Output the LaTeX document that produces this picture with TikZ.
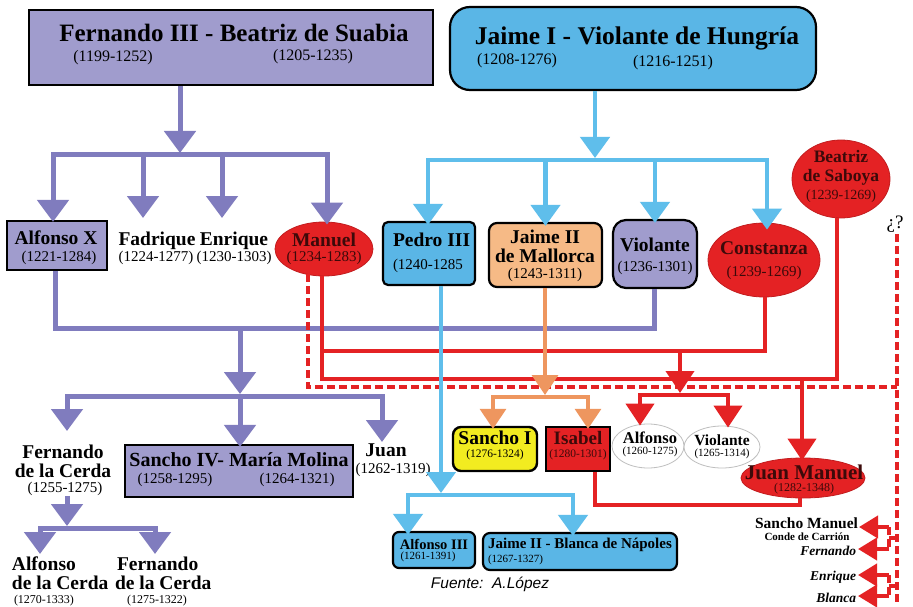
\documentclass[tikz,border=0pt]{standalone}
\usepackage{fontspec}
\setmainfont{Liberation Serif}
\setsansfont{Liberation Sans}
\usetikzlibrary{arrows.meta,shapes.geometric}
\definecolor{pfill}{RGB}{160,156,205}
\definecolor{plinec}{RGB}{128,124,190}
\definecolor{bfill}{RGB}{90,182,230}
\definecolor{blinec}{RGB}{95,190,235}
\definecolor{ofill}{RGB}{246,186,134}
\definecolor{olinec}{RGB}{238,150,95}
\definecolor{rfill}{RGB}{228,34,36}
\definecolor{yfill}{RGB}{242,236,32}
\definecolor{dred}{RGB}{60,10,10}
\newcommand\myfs[1]{\fontsize{#1}{#1}\selectfont}
\newcommand\myfsl[2]{\fontsize{#1}{#2}\selectfont}
\tikzset{
  txt/.style={inner sep=0pt, outer sep=0pt},
  nm/.style={txt, font={\bfseries\myfs{19.5}}},
  nml/.style={txt, align=center, font={\bfseries\myfsl{19.5}{20}}},
  dt/.style={txt, font={\myfs{15}}},
  sdt/.style={txt, font={\myfs{11.5}}},
  pbox/.style={draw=black, line width=2.2pt, fill=pfill, rectangle, inner sep=0pt},
  bbox/.style={draw=black, line width=2.2pt, fill=bfill, rectangle, rounded corners=#1, inner sep=0pt},
  obox/.style={draw=black, line width=2.2pt, fill=ofill, rectangle, rounded corners=8pt, inner sep=0pt},
  vbox/.style={draw=black, line width=2.2pt, fill=pfill, rectangle, rounded corners=13pt, inner sep=0pt},
  ybox/.style={draw=black, line width=2.4pt, fill=yfill, rectangle, rounded corners=8pt, inner sep=0pt},
  rbox/.style={draw=black, line width=2.4pt, fill=rfill, rectangle, inner sep=0pt},
  rell/.style={ellipse, draw=rfill!85!black, line width=0.8pt, fill=rfill, inner sep=0pt},
  well/.style={ellipse, draw=black!25, line width=0.8pt, fill=white, inner sep=0pt},
  pln/.style={draw=plinec, line width=5pt},
  parr/.style={pln, -{Triangle[width=31pt,length=22pt]}},
  bln/.style={draw=blinec, line width=4.5pt},
  barr/.style={bln, -{Triangle[width=29pt,length=21pt]}},
  oln/.style={draw=olinec, line width=3.5pt},
  oarr/.style={oln, -{Triangle[width=26pt,length=20pt]}},
  rln/.style={draw=rfill, line width=4pt},
  rarr/.style={rln, -{Triangle[width=28pt,length=22pt]}},
  rarrl/.style={rln, -{Triangle[width=22pt,length=19pt]}},
  rdsh/.style={draw=rfill, line width=4pt, dash pattern=on 8pt off 4pt},
}
\begin{document}
\begin{tikzpicture}[x=1pt,y=-1pt]
\useasboundingbox[fill=white] (0,0) rectangle (913,607);

% ---------- top couples
\node[pbox, minimum width=404pt, minimum height=75pt] (fb) at (231,47.5) {};
\node[txt, font={\bfseries\myfs{25}}] (fbT) at (234,33) {Fernando III - Beatriz de Suabia};
\node[dt, font={\myfs{16}}] (fbD1) at (113,58) {(1199-1252)};
\node[dt, font={\myfs{16}}] (fbD2) at (313,57) {(1205-1235)};

\node[bbox=20pt, minimum width=366pt, minimum height=83pt] (jv) at (633,48.5) {};
\node[txt, font={\bfseries\myfs{25.5}}] (jvT) at (637,38) {Jaime I - Violante de Hungría};
\node[dt, font={\myfs{16}}] (jvD1) at (517,61) {(1208-1276)};
\node[dt, font={\myfs{16}}] (jvD2) at (673,63) {(1216-1251)};

% ---------- second row
\node[pbox, minimum width=100pt, minimum height=49pt] (alf) at (57,245.5) {};
\node[nm] (alfT) at (56,238) {Alfonso X};
\node[dt] (alfD) at (59,258) {(1221-1284)};

\node[nm] (fadT) at (157,241) {Fadrique};
\node[dt] (fadD) at (156,258) {(1224-1277)};
\node[nm] (enrT) at (234,241) {Enrique};
\node[dt] (enrD) at (234,258) {(1230-1303)};

\node[rell, minimum width=98pt, minimum height=54pt] (man) at (324,249) {};
\node[nm, text=dred] (manT) at (324,240) {Manuel};
\node[dt, text=dred] (manD) at (324,258) {(1234-1283)};

\node[bbox=5pt, minimum width=92pt, minimum height=63pt] (ped) at (429,253.5) {};
\node[nm, anchor=west] (pedT) at (393,240) {Pedro III};
\node[dt, anchor=west] (pedD) at (393,266) {(1240-1285};

\node[obox, minimum width=113pt, minimum height=64pt] (jml) at (545.5,255) {};
\node[nm] (jmlT1) at (545,237) {Jaime II};
\node[nm] (jmlT2) at (545,256) {de Mallorca};
\node[dt] (jmlD) at (545,274.5) {(1243-1311)};

\node[vbox, minimum width=84pt, minimum height=68pt] (vio) at (655,254) {};
\node[nm] (vioT) at (655,245) {Violante};
\node[dt] (vioD) at (655,268) {(1236-1301)};

\node[rell, minimum width=112pt, minimum height=74pt] (con) at (764,260) {};
\node[nm, text=dred] (conT) at (764,248) {Constanza};
\node[dt, text=dred] (conD) at (764,273) {(1239-1269)};

\node[rell, minimum width=98pt, minimum height=78pt] (bea) at (841,179) {};
\node[txt, align=center, text=dred, font={\bfseries\myfsl{17.5}{19}}] (beaT) at (841,167.5) {Beatriz\\de Saboya};
\node[txt, text=dred, font={\myfs{14}}] (beaD) at (841,196) {(1239-1269)};

\node[txt, font={\myfs{19}}] (q) at (895,224) {¿?};

% ---------- third row (Castile)
\node[nml, font={\bfseries\myfsl{19.5}{19}}] (fdcT) at (63,461) {Fernando\\de la Cerda};
\node[dt] (fdcD) at (65,489) {(1255-1275)};

\node[pbox, minimum width=228pt, minimum height=52pt] (s4) at (239,471) {};
\node[txt, font={\bfseries\myfs{20}}] (s4T) at (239,460) {Sancho IV- María Molina};
\node[dt] (s4D1) at (175,480) {(1258-1295)};
\node[dt] (s4D2) at (297,480) {(1264-1321)};

\node[nm] (juanT) at (386,450) {Juan};
\node[dt] (juanD) at (393,470) {(1262-1319)};

\node[txt, anchor=west, align=left, font={\bfseries\myfsl{19.5}{19}}] (acT) at (12,573) {Alfonso\\de la Cerda};
\node[txt, anchor=west, font={\myfs{12}}] (acD) at (14,601) {(1270-1333)};
\node[txt, anchor=west, align=left, font={\bfseries\myfsl{19.5}{19}}] (fcT) at (115,573) {\hspace*{2pt}Fernando\\de la Cerda};
\node[txt, font={\myfs{12}}] (fcD) at (157,601) {(1275-1322)};

% ---------- third row (Aragon / Manuel)
\node[ybox, minimum width=84pt, minimum height=44pt] (s1) at (495,449) {};
\node[nm] (s1T) at (495,438) {Sancho I};
\node[sdt] (s1D) at (495,455) {(1276-1324)};

\node[rbox, minimum width=64pt, minimum height=44pt] (isa) at (578,449) {};
\node[nm, text=dred, font={\bfseries\myfs{19}}] (isaT) at (578,438) {Isabel};
\node[sdt, text=dred] (isaD) at (578,455) {(1280-1301)};

\node[well, minimum width=72pt, minimum height=44pt] (al2) at (648,446) {};
\node[txt, font={\bfseries\myfs{16.5}}] (al2T) at (650,438) {Alfonso};
\node[txt, font={\myfs{11}}] (al2D) at (650,452) {(1260-1275)};

\node[well, minimum width=76pt, minimum height=42pt] (vi2) at (722,447) {};
\node[txt, font={\bfseries\myfs{15.5}}] (vi2T) at (722,440) {Violante};
\node[txt, font={\myfs{11}}] (vi2D) at (722,454) {(1265-1314)};

\node[rell, minimum width=124pt, minimum height=40pt] (jman) at (803,478) {};
\node[txt, text=dred, font={\bfseries\myfs{21}}] (jmanT) at (804,472) {Juan Manuel};
\node[txt, text=dred, font={\myfs{12}}] (jmanD) at (804,489) {(1282-1348)};

\node[bbox=6pt, minimum width=82pt, minimum height=36pt] (a3) at (434,550) {};
\node[txt, font={\bfseries\myfs{14.5}}] (a3T) at (434,544) {Alfonso III};
\node[txt, font={\myfs{11}}] (a3D) at (428,557) {(1261-1391)};

\node[bbox=7pt, minimum width=194pt, minimum height=37pt] (jb) at (580,551.5) {};
\node[txt, font={\bfseries\myfs{15}}] (jbT) at (580,545) {Jaime II - Blanca de Nápoles};
\node[txt, anchor=west, font={\myfs{11}}] (jbD) at (488,560) {(1267-1327)};

\node[txt, font={\sffamily\itshape\myfs{15.5}}] (src) at (490,584) {Fuente:\ \ A.López};

% ---------- Manuel's other children
\node[txt, anchor=east, font={\bfseries\myfs{15.5}}] (smT) at (858,523) {Sancho Manuel};
\node[txt, font={\bfseries\myfs{11}}] (cdc) at (807,537) {Conde de Carrión};
\node[txt, anchor=east, font={\bfseries\itshape\myfs{13.5}}] (ferT) at (856,551) {Fernando};
\node[txt, anchor=east, font={\bfseries\itshape\myfs{13.5}}] (enqT) at (856,577) {Enrique};
\node[txt, anchor=east, font={\bfseries\itshape\myfs{13.5}}] (blaT) at (856,598) {Blanca};

% ---------- coordinates
\coordinate (p1t) at (180,153);
\coordinate (p1m) at (180,155);
\coordinate (p1L) at (53,155);
\coordinate (p1R) at (327,155);
\coordinate (fadA) at (143,218);
\coordinate (enrA) at (222,218);

\coordinate (p2L) at (55,328);
\coordinate (p2R) at (654,328);
\coordinate (p2m) at (240,328);
\coordinate (p2t) at (240,394);
\coordinate (p3m) at (240,396);
\coordinate (p3L) at (67,396);
\coordinate (p3R) at (382,396);
\coordinate (fdcA) at (67,431);
\coordinate (juanA) at (382,442);

\coordinate (p4t) at (67,526);
\coordinate (p4m) at (67,528);
\coordinate (p4L) at (40,528);
\coordinate (p4R) at (155,528);
\coordinate (acA) at (40,554);
\coordinate (fcA) at (155,554);

\coordinate (b1t) at (595,158);
\coordinate (b1m) at (595,160);
\coordinate (b1L) at (428,160);
\coordinate (b1R) at (767,160);
\coordinate (b2t) at (441,493);
\coordinate (b2m) at (441,495);
\coordinate (b2L) at (408,495);
\coordinate (b2R) at (573,495);

\coordinate (o1t) at (545,395);
\coordinate (o1m) at (545,397);
\coordinate (o1L) at (493,397);
\coordinate (o1R) at (588,397);

\coordinate (r1) at (322,351);
\coordinate (r1R) at (765,351);
\coordinate (r2) at (322,379);
\coordinate (r2R) at (837,379);
\coordinate (r1m) at (680,351);
\coordinate (r1t) at (680,393);
\coordinate (r3m) at (680,395);
\coordinate (r3L) at (640,395);
\coordinate (r3R) at (728,395);
\coordinate (r2J) at (802,379);
\coordinate (r4a) at (595,505);
\coordinate (r4b) at (800,505);

\coordinate (d1) at (308,387);
\coordinate (d2) at (897,387);
\coordinate (dtop) at (897,234);
\coordinate (dbot) at (897,602);
\coordinate (e1) at (897,538);
\coordinate (e1b) at (889,538);
\coordinate (e1u) at (889,527);
\coordinate (e1d) at (889,549);
\coordinate (e2) at (897,586);
\coordinate (e2b) at (889,586);
\coordinate (e2u) at (889,575);
\coordinate (e2d) at (889,596);

% ---------- purple connectors
\draw[parr] (fb.south -| p1t) -- (p1t);
\draw[parr] (p1m) -- (p1L) -- ([yshift=-2pt]p1L |- alf.north);
\draw[parr] (p1m) -- (p1R) -- ([yshift=-3pt]p1R |- man.north);
\draw[parr] (p1m -| fadA) -- (fadA);
\draw[parr] (p1m -| enrA) -- (enrA);

\draw[pln, line join=miter] (p2L |- alf.south) -- (p2L) -- (p2R) -- (p2R |- vio.south);
\draw[parr] (p2m) -- (p2t);
\draw[parr] (p3m) -- (p3L) -- (fdcA);
\draw[parr] (p3m) -- (p3R) -- (juanA);
\draw[parr] (p3m) -- ([yshift=-3pt]p3m |- s4.north);

\draw[parr] (fdcD.south -| p4t) -- (p4t);
\draw[parr] (p4m) -- (p4L) -- (acA);
\draw[parr] (p4m) -- (p4R) -- (fcA);

% ---------- red connectors
\draw[rln] (man.south -| r2) -- (r2) -- (r2R) -- (r2R |- bea.south);
\draw[rln] (r1) -- (r1R) -- (r1R |- con.south);
\draw[rarr] (r1m) -- (r1t);
\draw[rarr] (r3m) -- (r3L) -- ([yshift=-2pt]r3L |- al2.north);
\draw[rarr] (r3m) -- (r3R) -- ([yshift=-2pt]r3R |- vi2.north);
\draw[rarr] (r2J) -- ([yshift=-3pt]r2J |- jman.north);
\draw[rln, line join=miter] (isa.south -| r4a) -- (r4a) -- (r4b) -- (r4b |- jman.south);

\draw[rdsh] ([yshift=2pt]man.south -| d1) -- (d1) -- (d2);
\draw[rdsh] (dtop) -- (dbot);
\draw[rdsh] (e1) -- (e1b);
\draw[rdsh] (e1u) -- (e1d);
\draw[rarrl] (e1u) -- ([xshift=1pt]smT.east |- e1u);
\draw[rarrl] (e1d) -- ([xshift=2pt]ferT.east |- e1d);
\draw[rdsh] (e2) -- (e2b);
\draw[rdsh] (e2u) -- (e2d);
\draw[rarrl] (e2u) -- ([xshift=2pt]enqT.east |- e2u);
\draw[rarrl] (e2d) -- ([xshift=2pt]blaT.east |- e2d);

% ---------- blue connectors
\draw[barr] (jv.south -| b1t) -- (b1t);
\draw[barr] (b1m) -- (b1L) -- ([yshift=-4pt]b1L |- ped.north);
\draw[barr] (b1m) -- (b1R) -- ([yshift=-7pt]b1R |- con.north);
\draw[barr] (b1m -| jml.north) -- ([yshift=-4pt]jml.north);
\draw[barr] (b1m -| vio.north) -- ([yshift=-4pt]vio.north);

\draw[barr] (ped.south -| b2t) -- (b2t);
\draw[barr] (b2m) -- (b2L) -- ([yshift=-4pt]b2L |- a3.north);
\draw[barr] (b2m) -- (b2R) -- ([yshift=-4pt]b2R |- jb.north);

% ---------- orange connectors
\draw[oarr] (jml.south -| o1t) -- (o1t);
\draw[oarr] (o1m) -- (o1L) -- ([yshift=-3pt]o1L |- s1.north);
\draw[oarr] (o1m) -- (o1R) -- ([yshift=-3pt]o1R |- isa.north);

\end{tikzpicture}
\end{document}
